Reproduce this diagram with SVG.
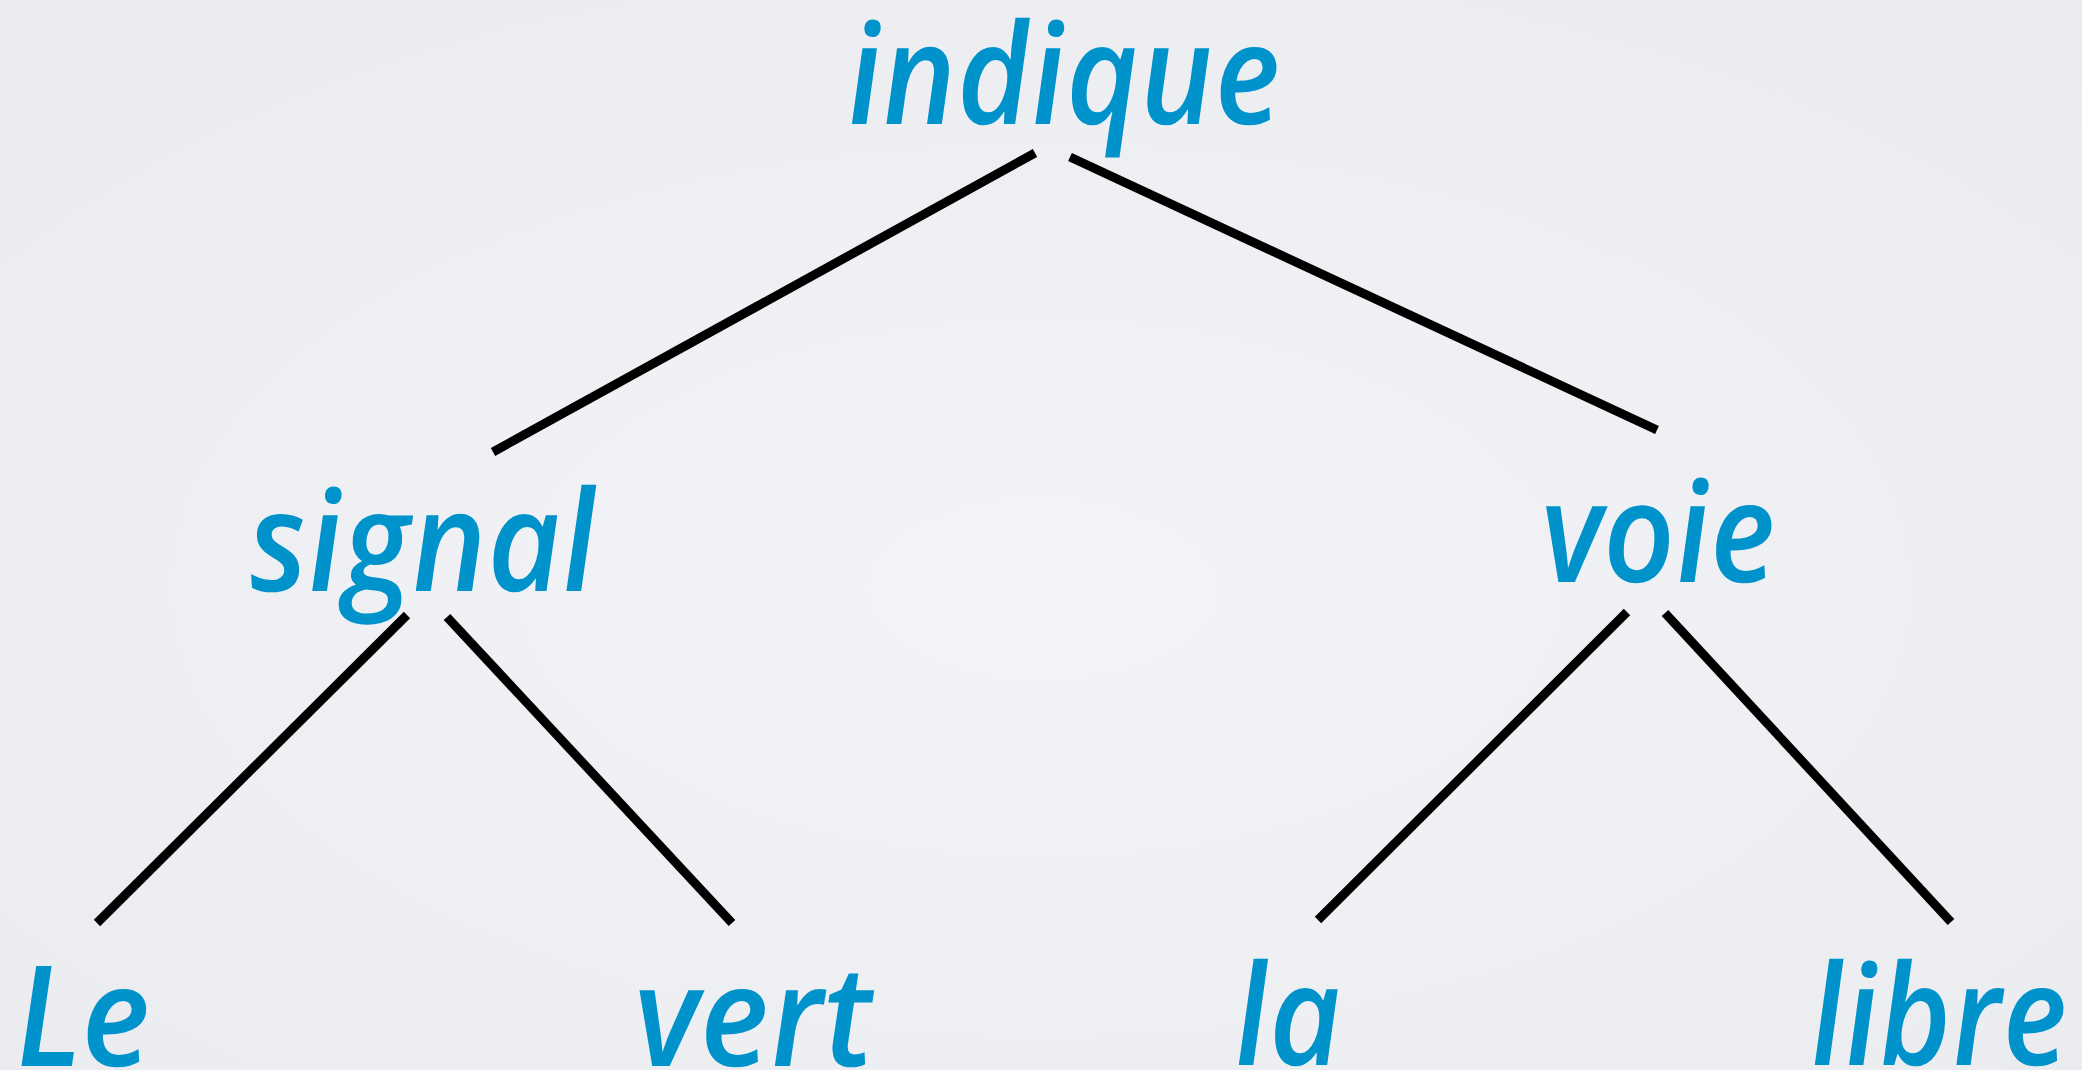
<svg xmlns="http://www.w3.org/2000/svg" width="2082" height="1070" viewBox="0 0 2082 1070">
  <defs>
    <radialGradient id="bg" cx="50%" cy="55%" r="75%">
      <stop offset="0" stop-color="#f3f4f8"/>
      <stop offset="1" stop-color="#e9ebef"/>
    </radialGradient>
    <style>
      .w { font-family: "Open Sans", "Liberation Sans", sans-serif; font-style: italic; font-weight: 600; font-size: 140px; fill: #0093cb; }
      .e { stroke: #000000; stroke-width: 9; stroke-linecap: butt; fill: none; }
    </style>
  </defs>
  <rect x="0" y="0" width="2082" height="1070" fill="url(#bg)"/>
  <g id="connectors">
    <line class="e" x1="1035" y1="153" x2="493" y2="452"/>
    <line class="e" x1="1070" y1="157" x2="1657" y2="430"/>
    <line class="e" x1="407" y1="615" x2="97" y2="923"/>
    <line class="e" x1="447" y1="617" x2="732" y2="923"/>
    <line class="e" x1="1627" y1="612" x2="1318" y2="920"/>
    <line class="e" x1="1665" y1="613" x2="1951" y2="922"/>
  </g>
  <g id="node-indique" transform="translate(849 124) skewX(3)"><text class="w" x="0" y="0" textLength="434" lengthAdjust="spacingAndGlyphs">indique</text></g>
  <g id="node-signal" transform="translate(251 591) skewX(3)"><text class="w" x="0" y="0" textLength="348" lengthAdjust="spacingAndGlyphs">signal</text></g>
  <g id="node-voie" transform="translate(1544 582) skewX(3)"><text class="w" x="0" y="0" textLength="234" lengthAdjust="spacingAndGlyphs">voie</text></g>
  <g id="node-le" transform="translate(17 1066) skewX(3)"><text class="w" x="0" y="0" textLength="136" lengthAdjust="spacingAndGlyphs">Le</text></g>
  <g id="node-vert" transform="translate(637 1066) skewX(3)"><text class="w" x="0" y="0" textLength="238" lengthAdjust="spacingAndGlyphs">vert</text></g>
  <g id="node-la" transform="translate(1236 1065) skewX(3)"><text class="w" x="0" y="0" textLength="108" lengthAdjust="spacingAndGlyphs">la</text></g>
  <g id="node-libre" transform="translate(1812 1065) skewX(3)"><text class="w" x="0" y="0" textLength="258" lengthAdjust="spacingAndGlyphs">libre</text></g>
</svg>
